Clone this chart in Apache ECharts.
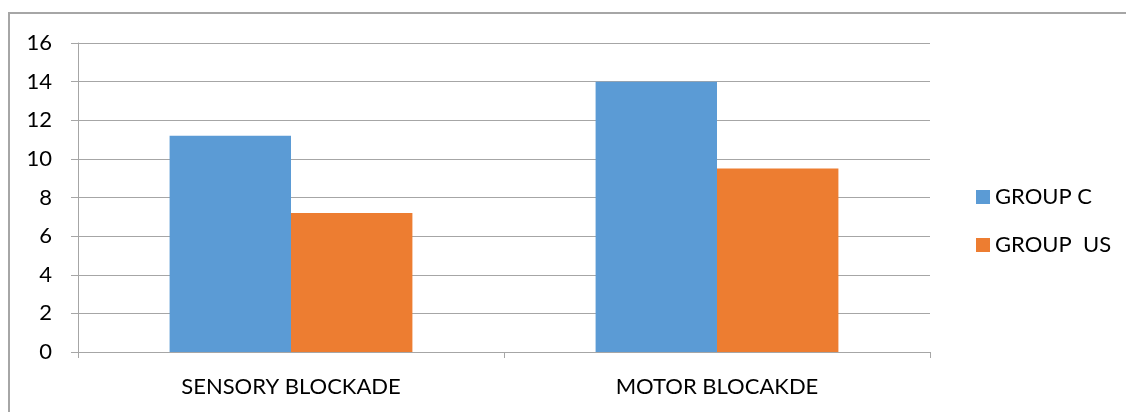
<!DOCTYPE html>
<html>
<head>
<meta charset="utf-8">
<script src="https://cdn.jsdelivr.net/npm/echarts@6/dist/echarts.min.js"></script>
<style>
  html, body { margin: 0; padding: 0; background: #fff; }
  #chart { width: 1126px; height: 412px; }
</style>
</head>
<body>
<div id="chart"></div>
<script>
// Block duration by group
const categories = ['SENSORY BLOCKADE', 'MOTOR BLOCAKDE'];
const groupC = [11.2, 14.0];
const groupUS = [7.2, 9.5];
const yTicks = { min: 0, max: 16, interval: 2 };

const font = 'Lato, "Open Sans", sans-serif';
const chart = echarts.init(document.getElementById('chart'), null, { renderer: 'canvas' });

chart.setOption({
  backgroundColor: '#ffffff',
  animation: false,
  graphic: [{
    type: 'rect',
    shape: { x: 9, y: 13, width: 1130, height: 420 },
    style: { fill: 'none', stroke: '#a6a6a6', lineWidth: 2 },
    silent: true
  }],
  grid: { left: 78, right: 196, top: 43, bottom: 60, containLabel: false },
  legend: {
    orient: 'vertical',
    left: 971,
    top: 181,
    itemWidth: 14,
    itemHeight: 14,
    itemGap: 26,
    icon: 'rect',
    textStyle: { fontFamily: font, fontSize: 22, color: '#000' },
    data: ['GROUP C', 'GROUP  US']
  },
  xAxis: {
    type: 'category',
    data: categories,
    axisLine: { lineStyle: { color: '#a6a6a6', width: 1 } },
    axisTick: { show: true, length: 6, alignWithLabel: false, lineStyle: { color: '#a6a6a6' } },
    axisLabel: { fontFamily: font, fontSize: 22, color: '#000', margin: 24 }
  },
  yAxis: {
    type: 'value',
    min: yTicks.min,
    max: yTicks.max,
    interval: yTicks.interval,
    axisLine: { show: true, lineStyle: { color: '#a6a6a6', width: 1 } },
    axisTick: { show: true, length: 7, lineStyle: { color: '#a6a6a6' } },
    splitLine: { lineStyle: { color: '#a6a6a6', width: 1 } },
    axisLabel: { fontFamily: font, fontSize: 22, color: '#000', margin: 26 }
  },
  series: [
    {
      name: 'GROUP C',
      type: 'bar',
      data: groupC,
      barGap: '0%',
      barCategoryGap: '43%',
      itemStyle: { color: '#5b9bd5' }
    },
    {
      name: 'GROUP  US',
      type: 'bar',
      data: groupUS,
      barGap: '0%',
      barCategoryGap: '43%',
      itemStyle: { color: '#ed7d31' }
    }
  ]
});
</script>
</body>
</html>
